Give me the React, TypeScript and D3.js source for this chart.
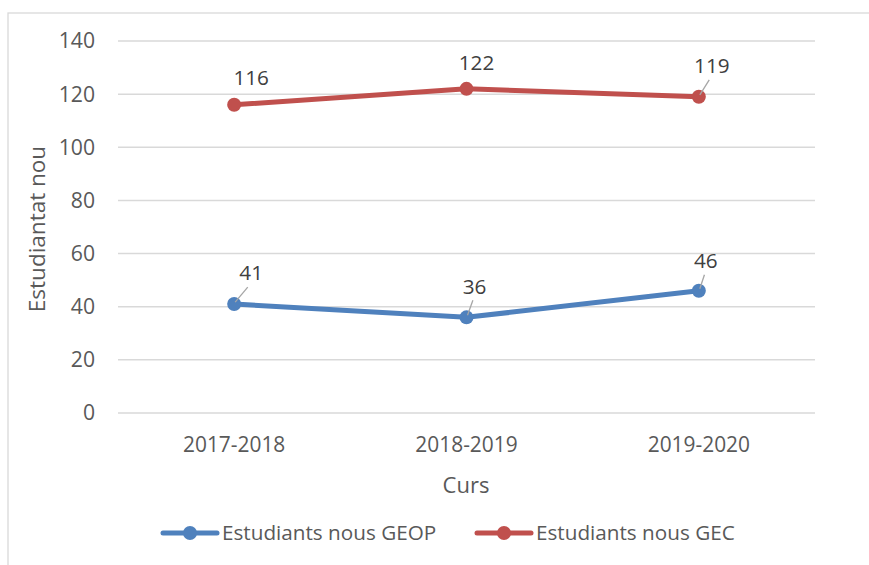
import React from "react";
import * as d3 from "d3";

const categories = ["2017-2018", "2018-2019", "2019-2020"];
const seriesNames = ["Estudiants nous GEOP", "Estudiants nous GEC"];
const geopValues = [41, 36, 46];
const gecValues = [116, 122, 119];
const yTicks = [0, 20, 40, 60, 80, 100, 120, 140];

const W = 869;
const H = 565;
const FONT = "'Open Sans', 'Liberation Sans', sans-serif";

// label offsets (dx, dy) relative to point, plus leader flag
const geopLabelOffsets = [
  { dx: 17, dy: -31, leader: true },
  { dx: 8, dy: -31, leader: true },
  { dx: 7, dy: -30, leader: true },
];
const gecLabelOffsets = [
  { dx: 17, dy: -27, leader: false },
  { dx: 10, dy: -26, leader: false },
  { dx: 13, dy: -31, leader: true },
];

export default function App() {
  const x = d3.scaleBand().domain(categories).range([118, 815]).padding(0);
  const y = d3.scaleLinear().domain([0, 140]).range([413, 41]);
  const cx = (c: string) => (x(c) as number) + x.bandwidth() / 2;

  const line = d3
    .line<number>()
    .x((_, i) => cx(categories[i]))
    .y((v) => y(v));

  const series = [
    { name: seriesNames[0], values: geopValues, color: "#4F81BD", offs: geopLabelOffsets },
    { name: seriesNames[1], values: gecValues, color: "#C0504D", offs: gecLabelOffsets },
  ];

  const legendItems = [
    { x: 163, color: "#4F81BD", name: seriesNames[0] },
    { x: 477, color: "#C0504D", name: seriesNames[1] },
  ];

  return (
    <svg
      width={W}
      height={H}
      style={{ position: "absolute", left: 0, top: 0, display: "block", background: "#fff" }}
      fontFamily={FONT}
    >
      <rect x={8} y={13} width={W + 10} height={H + 10} fill="#fff" stroke="#D9D9D9" strokeWidth={1.3} />
      {yTicks.map((t) => (
        <g key={t}>
          <line x1={118} x2={815} y1={y(t)} y2={y(t)} stroke="#D9D9D9" strokeWidth={1.5} />
          <text x={95} y={y(t)} dy="0.35em" textAnchor="end" fontSize={21.2} fill="#595959">
            {t}
          </text>
        </g>
      ))}
      {categories.map((c) => (
        <text key={c} x={cx(c)} y={452} textAnchor="middle" fontSize={20.9} fill="#595959">
          {c}
        </text>
      ))}
      <text x={466} y={493} textAnchor="middle" fontSize={22} fill="#595959">
        Curs
      </text>
      <text
        transform={`translate(45, 229) rotate(-90)`}
        textAnchor="middle"
        fontSize={22.5}
        fill="#595959"
      >
        Estudiantat nou
      </text>
      {series.map((s) => (
        <g key={s.name}>
          <path d={line(s.values) || ""} fill="none" stroke={s.color} strokeWidth={5} strokeLinejoin="round" strokeLinecap="round" />
          {s.values.map((v, i) => (
            <circle key={i} cx={cx(categories[i])} cy={y(v)} r={7} fill={s.color} />
          ))}
          {s.values.map((v, i) => {
            const px = cx(categories[i]);
            const py = y(v);
            const o = s.offs[i];
            return (
              <g key={"l" + i}>
                {o.leader && (
                  <line
                    x1={px + 1}
                    y1={py - 2}
                    x2={px + o.dx * 0.8}
                    y2={py + o.dy + 14}
                    stroke="#A6A6A6"
                    strokeWidth={1.3}
                  />
                )}
                <text x={px + o.dx} y={py + o.dy} dy="0.35em" textAnchor="middle" fontSize={20.7} fill="#404040">
                  {v}
                </text>
              </g>
            );
          })}
        </g>
      ))}
      {legendItems.map((l) => (
        <g key={l.name}>
          <line x1={l.x} x2={l.x + 54} y1={533} y2={533} stroke={l.color} strokeWidth={5} strokeLinecap="round" />
          <circle cx={l.x + 27} cy={533} r={7} fill={l.color} />
          <text x={l.x + 59} y={533} dy="0.35em" fontSize={20.7} fill="#595959">
            {l.name}
          </text>
        </g>
      ))}
    </svg>
  );
}
